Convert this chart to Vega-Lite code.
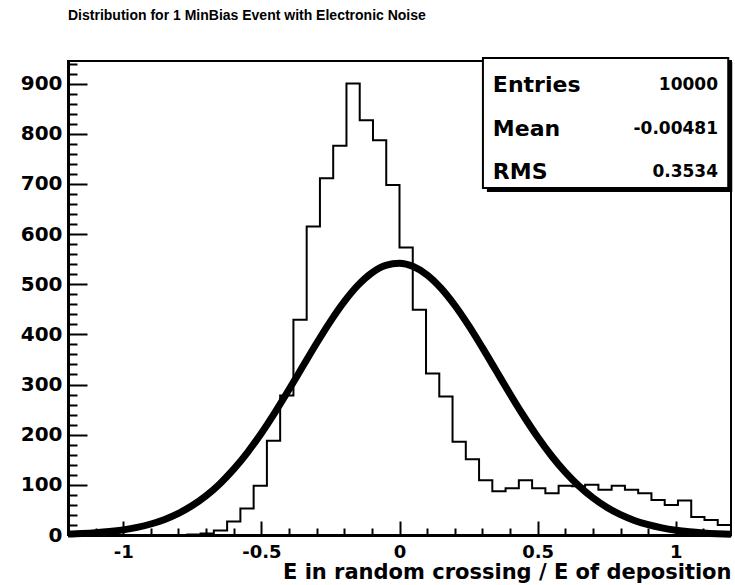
{
  "$schema": "https://vega.github.io/schema/vega-lite/v6.json",
  "width": 663,
  "height": 474,
  "autosize": {"type": "none"},
  "padding": {"left": 68, "top": 61, "right": 4, "bottom": 50},
  "background": "white",
  "title": {
    "text": "Distribution for 1 MinBias Event with Electronic Noise",
    "anchor": "start",
    "frame": "group",
    "font": "Liberation Sans",
    "fontSize": 14,
    "fontWeight": "bold",
    "color": "black",
    "offset": 34
  },
  "config": {
    "view": {"stroke": "black", "strokeWidth": 2},
    "axis": {"grid": false}
  },
  "datasets": {
    "hist": [
      {"edge": -1.2, "count": 0}, {"edge": -1.152, "count": 0}, {"edge": -1.104, "count": 0},
      {"edge": -1.056, "count": 0}, {"edge": -1.008, "count": 0}, {"edge": -0.96, "count": 0},
      {"edge": -0.912, "count": 0}, {"edge": -0.864, "count": 0}, {"edge": -0.816, "count": 0},
      {"edge": -0.768, "count": 1}, {"edge": -0.72, "count": 3}, {"edge": -0.672, "count": 9},
      {"edge": -0.624, "count": 27}, {"edge": -0.576, "count": 53}, {"edge": -0.528, "count": 98},
      {"edge": -0.48, "count": 188}, {"edge": -0.432, "count": 278}, {"edge": -0.384, "count": 429},
      {"edge": -0.336, "count": 615}, {"edge": -0.288, "count": 711}, {"edge": -0.24, "count": 776},
      {"edge": -0.192, "count": 900}, {"edge": -0.144, "count": 827}, {"edge": -0.096, "count": 787},
      {"edge": -0.048, "count": 698}, {"edge": 0, "count": 573}, {"edge": 0.048, "count": 449},
      {"edge": 0.096, "count": 322}, {"edge": 0.144, "count": 276}, {"edge": 0.192, "count": 186},
      {"edge": 0.24, "count": 151}, {"edge": 0.288, "count": 109}, {"edge": 0.336, "count": 87},
      {"edge": 0.384, "count": 93}, {"edge": 0.432, "count": 109}, {"edge": 0.48, "count": 93},
      {"edge": 0.528, "count": 83}, {"edge": 0.576, "count": 98}, {"edge": 0.624, "count": 97},
      {"edge": 0.672, "count": 100}, {"edge": 0.72, "count": 90}, {"edge": 0.768, "count": 98},
      {"edge": 0.816, "count": 90}, {"edge": 0.864, "count": 83}, {"edge": 0.912, "count": 70},
      {"edge": 0.96, "count": 60}, {"edge": 1.008, "count": 69}, {"edge": 1.056, "count": 36},
      {"edge": 1.104, "count": 30}, {"edge": 1.152, "count": 20}, {"edge": 1.2, "count": 20}
    ],
    "fit": [
      {"x": -1.2, "f": 1.78}, {"x": -1.15, "f": 2.84}, {"x": -1.1, "f": 4.45}, {"x": -1.05, "f": 6.83},
      {"x": -1.0, "f": 10.28}, {"x": -0.95, "f": 15.16}, {"x": -0.9, "f": 21.91}, {"x": -0.85, "f": 31.04},
      {"x": -0.8, "f": 43.1}, {"x": -0.75, "f": 58.67}, {"x": -0.7, "f": 78.28}, {"x": -0.65, "f": 102.37},
      {"x": -0.6, "f": 131.22}, {"x": -0.55, "f": 164.88}, {"x": -0.5, "f": 203.04}, {"x": -0.45, "f": 245.1},
      {"x": -0.4, "f": 289.99}, {"x": -0.35, "f": 336.31}, {"x": -0.3, "f": 382.32}, {"x": -0.25, "f": 426.0},
      {"x": -0.2, "f": 465.24}, {"x": -0.15, "f": 498.04}, {"x": -0.1, "f": 522.6}, {"x": -0.05, "f": 537.49},
      {"x": 0, "f": 541.85}, {"x": 0.05, "f": 535.42}, {"x": 0.1, "f": 518.59}, {"x": 0.15, "f": 492.32},
      {"x": 0.2, "f": 458.13}, {"x": 0.25, "f": 417.85}, {"x": 0.3, "f": 373.56}, {"x": 0.35, "f": 327.36},
      {"x": 0.4, "f": 281.2}, {"x": 0.45, "f": 236.75}, {"x": 0.5, "f": 195.37}, {"x": 0.55, "f": 158.03},
      {"x": 0.6, "f": 125.29}, {"x": 0.65, "f": 97.38}, {"x": 0.7, "f": 74.18}, {"x": 0.75, "f": 55.39},
      {"x": 0.8, "f": 40.54}, {"x": 0.85, "f": 29.08}, {"x": 0.9, "f": 20.44}, {"x": 0.95, "f": 14.09},
      {"x": 1.0, "f": 9.52}, {"x": 1.05, "f": 6.3}, {"x": 1.1, "f": 4.09}, {"x": 1.15, "f": 2.6},
      {"x": 1.2, "f": 1.62}
    ],
    "stats": [
      {"stat": "Entries", "value": "10000"},
      {"stat": "Mean", "value": "-0.00481"},
      {"stat": "RMS", "value": "0.3534"}
    ]
  },
  "resolve": {"axis": {"x": "independent", "y": "independent"}},
  "layer": [
    {
      "data": {"name": "hist"},
      "mark": {"type": "line", "interpolate": "step-after", "color": "black", "strokeWidth": 2, "strokeJoin": "miter"},
      "encoding": {
        "x": {
          "field": "edge", "type": "quantitative",
          "scale": {"domain": [-1.2, 1.2], "nice": false, "zero": false},
          "axis": {
            "orient": "bottom",
            "values": [-1.1, -0.9, -0.8, -0.7, -0.6, -0.4, -0.3, -0.2, -0.1, 0.1, 0.2, 0.3, 0.4, 0.6, 0.7, 0.8, 0.9, 1.1],
            "tickSize": -7, "tickWidth": 2, "tickColor": "black",
            "labels": false, "domain": false, "title": null
          }
        },
        "y": {
          "field": "count", "type": "quantitative",
          "scale": {"domain": [0, 945], "nice": false, "zero": true},
          "axis": {
            "orient": "left",
            "values": [20, 40, 60, 80, 120, 140, 160, 180, 220, 240, 260, 280, 320, 340, 360, 380, 420, 440, 460, 480, 520, 540, 560, 580, 620, 640, 660, 680, 720, 740, 760, 780, 820, 840, 860, 880, 920, 940],
            "tickSize": -9, "tickWidth": 2, "tickColor": "black",
            "labels": false, "domain": false, "title": null
          }
        }
      }
    },
    {
      "data": {"name": "fit"},
      "mark": {"type": "line", "interpolate": "monotone", "color": "black", "strokeWidth": 7},
      "encoding": {
        "x": {
          "field": "x", "type": "quantitative",
          "axis": {
            "orient": "bottom",
            "values": [-1, -0.5, 0, 0.5, 1],
            "labelExpr": "datum.value + ''",
            "tickSize": -14, "tickWidth": 2, "tickColor": "black",
            "domain": true, "domainColor": "black", "domainWidth": 3,
            "labelFont": "DejaVu Sans", "labelFontWeight": "bold", "labelFontSize": 18, "labelColor": "black",
            "labelPadding": 22, "labelFlush": false, "labelOverlap": false,
            "title": "E in random crossing / E of deposition",
            "titleFont": "DejaVu Sans", "titleFontWeight": "bold", "titleFontSize": 21, "titleColor": "black",
            "titleAnchor": "end", "titleAlign": "right", "titlePadding": 0
          }
        },
        "y": {
          "field": "f", "type": "quantitative",
          "axis": {
            "orient": "left",
            "values": [0, 100, 200, 300, 400, 500, 600, 700, 800, 900],
            "labelExpr": "datum.value + ''",
            "tickSize": -19, "tickWidth": 2, "tickColor": "black",
            "domain": true, "domainColor": "black", "domainWidth": 3,
            "labelFont": "DejaVu Sans", "labelFontWeight": "bold", "labelFontSize": 20, "labelColor": "black",
            "labelPadding": 25, "labelFlush": false, "labelOverlap": false,
            "title": null
          }
        }
      }
    },
    {
      "data": {"values": [{}]},
      "mark": {"type": "rect", "fill": "black", "xOffset": 4, "x2Offset": 4, "yOffset": 4, "y2Offset": 4},
      "encoding": {
        "x": {"datum": 0.302, "type": "quantitative", "axis": null},
        "x2": {"datum": 1.19},
        "y": {"datum": 951, "type": "quantitative", "axis": null},
        "y2": {"datum": 692}
      }
    },
    {
      "data": {"values": [{}]},
      "mark": {"type": "rect", "fill": "white", "stroke": "black", "strokeWidth": 2},
      "encoding": {
        "x": {"datum": 0.302, "type": "quantitative", "axis": null},
        "x2": {"datum": 1.19},
        "y": {"datum": 951, "type": "quantitative", "axis": null},
        "y2": {"datum": 692}
      }
    },
    {
      "data": {"name": "stats"},
      "transform": [{"filter": "datum.stat == 'Entries'"}],
      "encoding": {"y": {"datum": 897, "type": "quantitative", "axis": null}},
      "layer": [
        {
          "mark": {"type": "text", "align": "left", "baseline": "middle", "font": "DejaVu Sans", "fontWeight": "bold", "fontSize": 22, "color": "black"},
          "encoding": {"x": {"datum": 0.338, "type": "quantitative", "axis": null}, "text": {"field": "stat"}}
        },
        {
          "mark": {"type": "text", "align": "right", "baseline": "middle", "font": "DejaVu Sans", "fontWeight": "bold", "fontSize": 17, "color": "black"},
          "encoding": {"x": {"datum": 1.153, "type": "quantitative", "axis": null}, "text": {"field": "value"}}
        }
      ]
    },
    {
      "data": {"name": "stats"},
      "transform": [{"filter": "datum.stat == 'Mean'"}],
      "encoding": {"y": {"datum": 809, "type": "quantitative", "axis": null}},
      "layer": [
        {
          "mark": {"type": "text", "align": "left", "baseline": "middle", "font": "DejaVu Sans", "fontWeight": "bold", "fontSize": 22, "color": "black"},
          "encoding": {"x": {"datum": 0.338, "type": "quantitative", "axis": null}, "text": {"field": "stat"}}
        },
        {
          "mark": {"type": "text", "align": "right", "baseline": "middle", "font": "DejaVu Sans", "fontWeight": "bold", "fontSize": 17, "color": "black"},
          "encoding": {"x": {"datum": 1.153, "type": "quantitative", "axis": null}, "text": {"field": "value"}}
        }
      ]
    },
    {
      "data": {"name": "stats"},
      "transform": [{"filter": "datum.stat == 'RMS'"}],
      "encoding": {"y": {"datum": 724, "type": "quantitative", "axis": null}},
      "layer": [
        {
          "mark": {"type": "text", "align": "left", "baseline": "middle", "font": "DejaVu Sans", "fontWeight": "bold", "fontSize": 22, "color": "black"},
          "encoding": {"x": {"datum": 0.338, "type": "quantitative", "axis": null}, "text": {"field": "stat"}}
        },
        {
          "mark": {"type": "text", "align": "right", "baseline": "middle", "font": "DejaVu Sans", "fontWeight": "bold", "fontSize": 17, "color": "black"},
          "encoding": {"x": {"datum": 1.153, "type": "quantitative", "axis": null}, "text": {"field": "value"}}
        }
      ]
    }
  ]
}
